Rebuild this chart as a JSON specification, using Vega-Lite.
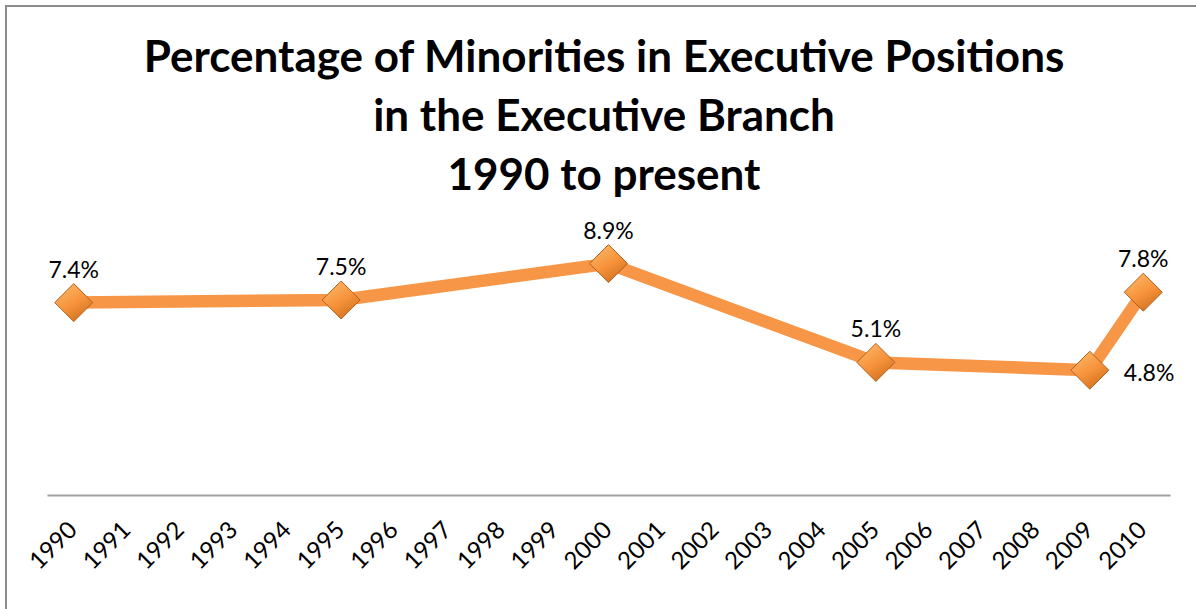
{
  "$schema": "https://vega.github.io/schema/vega-lite/v6.json",
  "autosize": "none",
  "padding": {"left": 6, "top": 6, "right": 0, "bottom": 0},
  "width": 1196,
  "height": 610,
  "background": "white",
  "config": {
    "view": {"stroke": "#8c8c8c", "strokeWidth": 2},
    "font": "Lato"
  },
  "title": {
    "text": ["Percentage of Minorities in Executive Positions", "in the Executive Branch", "1990 to present"],
    "font": "Lato",
    "fontSize": 44,
    "fontWeight": "bold",
    "color": "black",
    "lineHeight": 59,
    "anchor": "middle",
    "baseline": "alphabetic",
    "offset": -228
  },
  "data": {
    "values": [
      {"year": "1990", "pct": 7.4, "label": "7.4%", "pos": "above"},
      {"year": "1995", "pct": 7.5, "label": "7.5%", "pos": "above"},
      {"year": "2000", "pct": 8.9, "label": "8.9%", "pos": "above"},
      {"year": "2005", "pct": 5.1, "label": "5.1%", "pos": "above"},
      {"year": "2009", "pct": 4.8, "label": "4.8%", "pos": "right"},
      {"year": "2010", "pct": 7.8, "label": "7.8%", "pos": "above"}
    ]
  },
  "encoding": {
    "x": {
      "field": "year",
      "type": "nominal",
      "sort": null,
      "scale": {
        "type": "band",
        "domain": ["1990","1991","1992","1993","1994","1995","1996","1997","1998","1999","2000","2001","2002","2003","2004","2005","2006","2007","2008","2009","2010"],
        "range": [41, 1164],
        "paddingInner": 0,
        "paddingOuter": 0
      },
      "axis": {
        "title": null,
        "orient": "bottom",
        "offset": -121,
        "domainColor": "#a0a0a0",
        "domainWidth": 2,
        "ticks": false,
        "labelAngle": -45,
        "labelAlign": "right",
        "labelBaseline": "middle",
        "labelPadding": 31,
        "labelFont": "Lato",
        "labelFontSize": 24,
        "labelColor": "black",
        "grid": false
      }
    },
    "y": {
      "field": "pct",
      "type": "quantitative",
      "scale": {"domain": [0, 10], "range": [489, 229]},
      "axis": null
    }
  },
  "layer": [
    {
      "mark": {"type": "line", "color": "#f79646", "strokeWidth": 12.5, "strokeJoin": "round"}
    },
    {
      "mark": {
        "type": "point",
        "shape": "diamond",
        "size": 1444,
        "filled": true,
        "opacity": 1,
        "fill": {
          "gradient": "linear",
          "x1": 0.2, "y1": 0, "x2": 0.8, "y2": 1,
          "stops": [
            {"offset": 0, "color": "#fcb86a"},
            {"offset": 0.5, "color": "#f7943c"},
            {"offset": 1, "color": "#cf6c1a"}
          ]
        },
        "stroke": "#b0601c",
        "strokeWidth": 1
      }
    },
    {
      "transform": [{"filter": "datum.pos === 'above'"}],
      "mark": {"type": "text", "font": "Lato", "fontSize": 23, "color": "black", "baseline": "alphabetic", "align": "center", "dy": -25},
      "encoding": {"text": {"field": "label"}}
    },
    {
      "transform": [{"filter": "datum.pos === 'right'"}],
      "mark": {"type": "text", "font": "Lato", "fontSize": 23, "color": "black", "baseline": "middle", "align": "left", "dx": 34, "dy": 4},
      "encoding": {"text": {"field": "label"}}
    }
  ]
}
